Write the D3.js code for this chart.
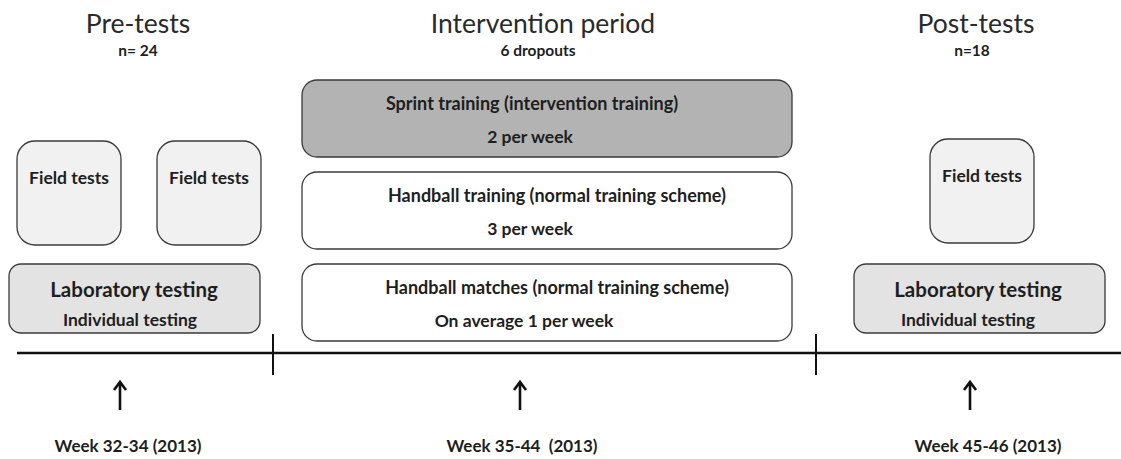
<!DOCTYPE html>
<html>
<head>
<meta charset="utf-8">
<script src="https://cdn.jsdelivr.net/npm/d3@7"></script>
<style>
  body { margin: 0; background: #fff; }
  text { font-family: Lato, "Open Sans", sans-serif; fill: #1e1e1e; }
</style>
</head>
<body>
<svg class="main"></svg>
<script>
// phases of the study
let phaseTitles = ['Pre-tests', 'Intervention period', 'Post-tests'],
    phaseNotes = ['n= 24', '6 dropouts', 'n=18'],
    weekLabels = ['Week 32-34 (2013)', 'Week 35-44  (2013)', 'Week 45-46 (2013)'],
    // boxes: label lines
    fieldBoxes = ['Field tests', 'Field tests', 'Field tests'],
    labLines = [['Laboratory testing', 'Individual testing'], ['Laboratory testing', 'Individual testing']],
    interventionLines = [
      ['Sprint training (intervention training)', '2 per week'],
      ['Handball training (normal training scheme)', '3 per week'],
      ['Handball matches (normal training scheme)', 'On average 1 per week']
    ];

let w = 1121, h = 459;

let svg = d3.select('.main')
  .attr('width', w)
  .attr('height', h)
  .style('background-color', '#fff');

// layout: x positions in px for each phase column
let phaseX = d3.scaleOrdinal().domain([0, 1, 2]).range([138, 543, 976]);
let arrowX = d3.scaleOrdinal().domain([0, 1, 2]).range([120, 520, 970]);
let weekX = d3.scaleOrdinal().domain([0, 1, 2]).range([128, 522, 988]);

// titles
svg.selectAll('text.title')
  .data(phaseTitles)
  .enter()
  .append('text')
  .attr('class', 'title')
  .attr('x', (d, i) => phaseX(i))
  .attr('y', 33)
  .attr('text-anchor', 'middle')
  .style('font-size', '26.5px')
  .style('fill', '#2a2a2a')
  .text(d => d);

svg.selectAll('text.note')
  .data(phaseNotes)
  .enter()
  .append('text')
  .attr('class', 'note')
  .attr('x', (d, i) => phaseX(i) - (i == 2 ? 4 : i == 1 ? 5 : 0))
  .attr('y', 56)
  .attr('text-anchor', 'middle')
  .style('font-size', '15.5px')
  .style('font-weight', 'bold')
  .text(d => d);

// field test boxes
let fieldPos = [{x: 17, y: 141}, {x: 157, y: 141}, {x: 930, y: 139}];
let field = svg.append('g').selectAll('g')
  .data(fieldBoxes)
  .enter()
  .append('g')
  .attr('transform', (d, i) => `translate(${fieldPos[i].x},${fieldPos[i].y})`);

field.append('rect')
  .attr('width', 104)
  .attr('height', 104)
  .attr('rx', 18)
  .attr('fill', '#f1f1f1')
  .attr('stroke', '#3a3a3a')
  .attr('stroke-width', 1.3);

field.append('text')
  .attr('x', 52)
  .attr('y', 43)
  .attr('text-anchor', 'middle')
  .style('font-size', '17.5px')
  .style('font-weight', 'bold')
  .text(d => d);

// laboratory boxes
let labPos = [{x: 9, cx: 134, cx2: 130}, {x: 854, cx: 978, cx2: 968}];
let lab = svg.append('g').selectAll('g')
  .data(labLines)
  .enter()
  .append('g')
  .attr('transform', (d, i) => `translate(${labPos[i].x},264)`);

lab.append('rect')
  .attr('width', 251)
  .attr('height', 69)
  .attr('rx', 12)
  .attr('fill', '#e3e3e3')
  .attr('stroke', '#3a3a3a')
  .attr('stroke-width', 1.3);

lab.append('text')
  .attr('x', (d, i) => labPos[i].cx - labPos[i].x)
  .attr('y', 33)
  .attr('text-anchor', 'middle')
  .style('font-size', '20.5px')
  .style('font-weight', 'bold')
  .text(d => d[0]);

lab.append('text')
  .attr('x', (d, i) => labPos[i].cx2 - labPos[i].x)
  .attr('y', 62)
  .attr('text-anchor', 'middle')
  .style('font-size', '17.5px')
  .style('font-weight', 'bold')
  .text(d => d[1]);

// intervention boxes
let intY = d3.scalePoint().domain([0, 1, 2]).range([80, 264]);
let intFill = ['#b3b3b3', '#fff', '#fff'];
let intCx = [[532, 530], [557, 530], [557, 524]];
let intv = svg.append('g').selectAll('g')
  .data(interventionLines)
  .enter()
  .append('g')
  .attr('transform', (d, i) => `translate(302,${intY(i)})`);

intv.append('rect')
  .attr('width', 490)
  .attr('height', 77)
  .attr('rx', 15)
  .attr('fill', (d, i) => intFill[i])
  .attr('stroke', '#3a3a3a')
  .attr('stroke-width', 1.3);

intv.append('text')
  .attr('x', (d, i) => intCx[i][0] - 302)
  .attr('y', 30)
  .attr('text-anchor', 'middle')
  .style('font-size', '18px')
  .style('font-weight', 'bold')
  .text(d => d[0]);

intv.append('text')
  .attr('x', (d, i) => intCx[i][1] - 302)
  .attr('y', 63)
  .attr('text-anchor', 'middle')
  .style('font-size', '17.5px')
  .style('font-weight', 'bold')
  .text(d => d[1]);

// timeline
svg.append('line')
  .attr('x1', 17).attr('x2', w)
  .attr('y1', 353).attr('y2', 353)
  .attr('stroke', '#111')
  .attr('stroke-width', 2.6);

svg.selectAll('line.tick')
  .data([273, 816])
  .enter()
  .append('line')
  .attr('class', 'tick')
  .attr('x1', d => d).attr('x2', d => d)
  .attr('y1', 334).attr('y2', 375)
  .attr('stroke', '#111')
  .attr('stroke-width', 2);

// arrows
svg.selectAll('path.arrow')
  .data(weekLabels)
  .enter()
  .append('path')
  .attr('class', 'arrow')
  .attr('d', (d, i) => {
    let x = arrowX(i);
    return `M${x},410 L${x},382 M${x - 6},390 L${x},382 L${x + 6},390`;
  })
  .attr('fill', 'none')
  .attr('stroke', '#111')
  .attr('stroke-width', 2.6);

svg.selectAll('text.week')
  .data(weekLabels)
  .enter()
  .append('text')
  .attr('class', 'week')
  .attr('x', (d, i) => weekX(i))
  .attr('y', 452)
  .attr('text-anchor', 'middle')
  .style('font-size', '17px')
  .style('font-weight', 'bold')
  .style('white-space', 'pre')
  .text(d => d);
</script>
</body>
</html>
